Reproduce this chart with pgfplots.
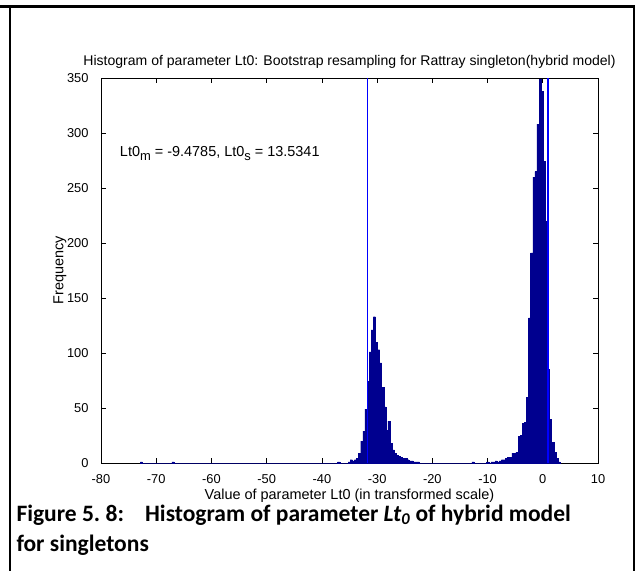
\documentclass[border=0pt]{standalone}
\usepackage{fontspec}
\setmainfont{Liberation Sans}
\newfontfamily\capfont{Carlito}
\usepackage{pgfplots}
\pgfplotsset{compat=1.18}
\definecolor{barnavy}{RGB}{0,0,143}
\definecolor{pureblue}{RGB}{0,0,255}
\begin{document}
\begin{tikzpicture}
\path[use as bounding box] (0bp,0bp) rectangle (635bp,-571bp);
\draw[line width=2.5bp] (0bp,-6.5bp) -- (635bp,-6.5bp);
\draw[line width=2bp] (10bp,-5.25bp) -- (10bp,-571bp);
\draw[line width=2bp] (633.5bp,-5.25bp) -- (633.5bp,-571bp);
\begin{axis}[
  at={(101bp,-463bp)}, anchor=south west, scale only axis,
  width=497bp, height=385bp,
  xmin=-80, xmax=10, ymin=0, ymax=350,
  xtick={-80,-70,...,10}, ytick={0,50,...,350},
  tick align=inside, major tick length=5bp,
  axis line style={black, line width=0.7bp},
  every tick/.style={black, line width=0.6bp},
  /pgf/number format/assume math mode=true,
  tick label style={font=\fontsize{12.9}{14}\selectfont},
  xticklabel style={yshift=-8bp},
  yticklabel style={xshift=-9bp},
  title={Histogram of parameter Lt0: Bootstrap resampling for Rattray singleton(hybrid model)},
  title style={font=\fontsize{14.1}{16}\selectfont, at={(0.5,1)}, anchor=south, yshift=0bp},
  xlabel={Value of parameter Lt0 (in transformed scale)},
  xlabel style={font=\fontsize{14.5}{16}\selectfont, yshift=1bp},
  ylabel={Frequency},
  ylabel style={font=\fontsize{14.5}{16}\selectfont, at={(0,0.5)}, anchor=south, yshift=31bp},
  clip=false,
]
\addplot[ybar interval, fill=barnavy, draw=barnavy, line width=0.4bp] coordinates {
(-72.87,1) (-72.49,0) (-67.17,1) (-66.79,0) (-37.15,1) (-36.77,0)
(-35.25,1) (-34.87,3) (-34.49,2) (-34.11,3) (-33.73,4) (-33.35,9)
(-32.97,20) (-32.59,29) (-32.21,49) (-31.83,74) (-31.45,101) (-31.07,121)
(-30.69,133) (-30.31,110) (-29.93,103) (-29.55,91) (-29.17,69) (-28.79,51)
(-28.41,30) (-28.03,38) (-27.65,18) (-27.27,12) (-26.89,9) (-26.51,7)
(-26.13,6) (-25.75,5) (-25.37,4) (-24.99,4) (-24.61,3) (-24.23,2)
(-23.85,2) (-23.47,1) (-23.09,1) (-22.71,1) (-22.33,0)
(-12.83,1) (-12.45,0)
(-10.17,1) (-9.79,0) (-9.41,1) (-9.03,1) (-8.65,2) (-8.27,1)
(-7.89,2) (-7.51,3) (-7.13,3) (-6.75,4) (-6.37,5) (-5.99,5)
(-5.61,9) (-5.23,9) (-4.85,10) (-4.47,24) (-4.09,25) (-3.71,36)
(-3.33,37) (-2.95,60) (-2.57,132) (-2.19,191) (-1.81,260) (-1.43,265)
(-1.05,308) (-0.67,349) (-0.29,338) (0.09,274) (0.47,220) (0.85,85)
(1.23,40) (1.61,19) (1.99,10) (2.37,4) (2.75,1) (3.13,0)
};
\addplot[pureblue, line width=1.1bp] coordinates {(-31.8,0) (-31.8,350)};
\addplot[pureblue, line width=1.1bp] coordinates {(0.95,0) (0.95,350)};
\node[anchor=west, font=\fontsize{14.5}{16}\selectfont] at (axis cs:-77.2,281)
  {Lt0\raisebox{-0.55ex}{\fontsize{13}{14}\selectfont m} = -9.4785, Lt0\raisebox{-0.55ex}{\fontsize{13}{14}\selectfont s} = 13.5341};
\end{axis}
\node[anchor=west, font=\capfont\bfseries\fontsize{23.6}{28}\selectfont] at (13bp,-515bp)
  {Figure 5.\ 8:\hspace{0.9em}Histogram of parameter \textit{Lt\textsubscript{0}} of hybrid model};
\node[anchor=west, font=\capfont\bfseries\fontsize{23.6}{28}\selectfont] at (13bp,-545bp)
  {for singletons};
\end{tikzpicture}
\end{document}
